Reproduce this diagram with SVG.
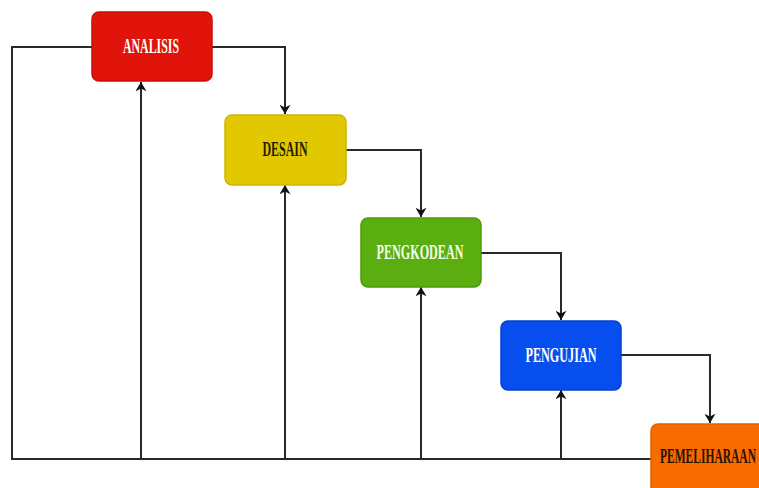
<svg xmlns="http://www.w3.org/2000/svg" width="759" height="488" viewBox="0 0 759 488">
<defs>
<style>
.box{stroke-width:1.5}
.lbl{font-family:"Liberation Serif","Times New Roman",serif;font-weight:bold;font-size:20px;text-anchor:middle}
.conn{fill:none;stroke:#2a2a2a;stroke-width:2}
</style>
<marker id="ah" viewBox="0 0 10 12" refX="10" refY="6" markerWidth="11" markerHeight="11" markerUnits="userSpaceOnUse" orient="auto">
<path d="M0,0 L10,6 L0,12 L3,6 Z" fill="#111"/>
</marker>
</defs>
<rect width="759" height="488" fill="#fff"/>
<g id="connectors">
<path class="conn" d="M92,47 H12 V459 H651"/>
<path class="conn" d="M212,47 H285 V114" marker-end="url(#ah)"/>
<path class="conn" d="M346,150 H421 V217" marker-end="url(#ah)"/>
<path class="conn" d="M481,253 H561 V320" marker-end="url(#ah)"/>
<path class="conn" d="M621,355 H710 V423" marker-end="url(#ah)"/>
<path class="conn" d="M141,459 V82" marker-end="url(#ah)"/>
<path class="conn" d="M285,459 V185" marker-end="url(#ah)"/>
<path class="conn" d="M421,459 V287" marker-end="url(#ah)"/>
<path class="conn" d="M561,459 V390" marker-end="url(#ah)"/>
</g>
<g id="analisis">
<rect class="box" x="92" y="12" width="120" height="69" rx="7" fill="#e0140a" stroke="#c81008"/>
<text class="lbl" x="151" y="53" fill="#fff" textLength="56" lengthAdjust="spacingAndGlyphs">ANALISIS</text>
</g>
<g id="desain">
<rect class="box" x="225" y="115" width="121" height="70" rx="7" fill="#e1c800" stroke="#cdb500"/>
<text class="lbl" x="285" y="156" fill="#2a1a00" textLength="45" lengthAdjust="spacingAndGlyphs">DESAIN</text>
</g>
<g id="pengkodean">
<rect class="box" x="361" y="218" width="120" height="69" rx="7" fill="#5aae10" stroke="#4e9a0c"/>
<text class="lbl" x="420" y="259" fill="#f4ffe8" textLength="87" lengthAdjust="spacingAndGlyphs">PENGKODEAN</text>
</g>
<g id="pengujian">
<rect class="box" x="501" y="321" width="120" height="69" rx="7" fill="#064fee" stroke="#0540cc"/>
<text class="lbl" x="561" y="362" fill="#fff" textLength="71" lengthAdjust="spacingAndGlyphs">PENGUJIAN</text>
</g>
<g id="pemeliharaan">
<rect class="box" x="651" y="424" width="130" height="72" rx="7" fill="#f76b00" stroke="#e06000"/>
<text class="lbl" x="708" y="463" fill="#2a1200" textLength="96" lengthAdjust="spacingAndGlyphs">PEMELIHARAAN</text>
</g>
</svg>
